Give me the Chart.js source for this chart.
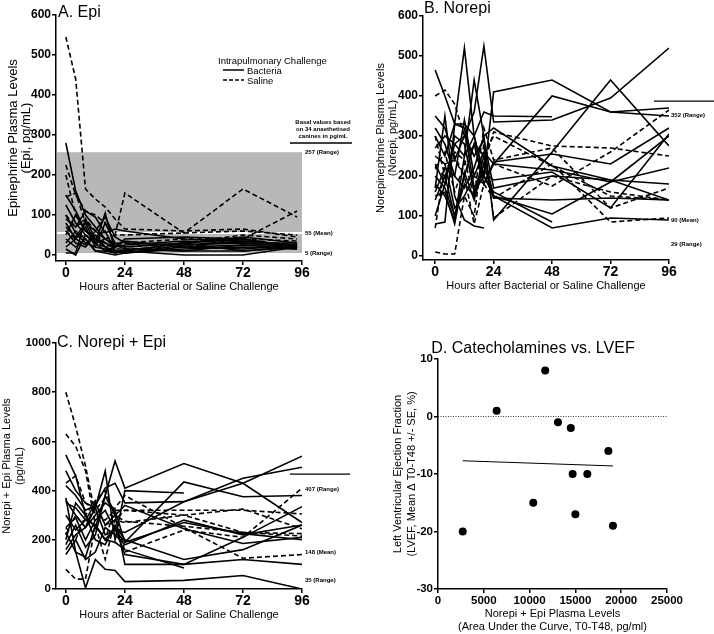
<!DOCTYPE html>
<html>
<head>
<meta charset="utf-8">
<title>Catecholamines</title>
<script src="https://cdn.jsdelivr.net/npm/chart.js"></script>
<style>
    body { margin: 0; background: #fff; }
    .stage { position: relative; width: 714px; height: 634px; }
    .stage canvas { position: absolute; left: 0; top: 0; }
</style>
</head>
<body>
<div class="stage">
    <canvas id="epiChart" width="714" height="634"></canvas>
    <canvas id="norepiChart" width="714" height="634"></canvas>
    <canvas id="sumChart" width="714" height="634"></canvas>
    <canvas id="lvefChart" width="714" height="634"></canvas>
</div>
<script>
// sampling times (hours after challenge)
const hoursA = [0, 4, 8, 12, 16, 20, 24, 48, 72, 94];
const hoursBC = [0, 4, 8, 12, 16, 20, 24, 48, 72, 96];
const hourTicks = [0, 24, 48, 72, 96];

// A. Epi (pg/mL), one row per animal
const epiBacteria = [
    [280, 160, 100, 70, 40, 25, 15, 10, 10, 20],
    [150, 110, 60, 40, 20, 10, 5, 20, 25, 25],
    [90, 70, 110, 95, 55, 65, 60, 40, 35, 25],
    [70, 45, 80, 30, 105, 10, 10, 30, 45, 30],
    [60, 30, 20, 50, 20, 5, 10, 30, 40, 20],
    [5, 5, 90, 40, 60, 10, 5, 25, 35, 25],
    [40, 20, 40, 10, 5, 0, 5, 15, 20, 15],
    [100, 55, 30, 20, 80, 30, 20, 30, 10, 20],
    [15, 0, 50, 30, 10, 5, 10, 0, 0, 20],
    [125, 80, 50, 30, 40, 20, 25, 35, 30, 30],
    [30, 60, 40, 10, 10, 20, 40, 45, 40, 20],
    [50, 100, 60, 40, 30, 20, 35, 20, 15, 25],
    [80, 40, 25, 60, 95, 45, 30, 25, 30, 20],
    [20, 40, 70, 20, 15, 5, 15, 10, 25, 15]
];
const epiSaline = [
    [545, 440, 165, 140, 120, 90, 65, 60, 65, 45],
    [225, 150, 110, 100, 80, 50, 155, 55, 165, 95],
    [145, 155, 80, 60, 40, 30, 30, 40, 40, 110],
    [100, 70, 90, 60, 40, 50, 50, 55, 60, 50],
    [60, 40, 50, 30, 20, 30, 20, 30, 50, 40],
    [200, 100, 60, 50, 30, 15, 15, 20, 40, 35]
];
const epiTicks = [0, 100, 200, 300, 400, 500, 600];
const epiBasal = [257, 55, 5];
const epiBasalText = ['257 (Range)', '55 (Mean)', '5 (Range)'];

// B. Norepi (pg/mL)
const norepiBacteria = [
    [465, 400, 330, 520, 300, 200, 410, 440, 360, 350],
    [350, 320, 240, 300, 360, 525, 335, 340, 395, 520],
    [180, 150, 90, 250, 440, 300, 90, 260, 440, 275],
    [300, 250, 330, 330, 300, 360, 350, 348, null, null],
    [140, 200, 100, 200, 280, 180, 230, 400, 360, 370],
    [250, 230, 120, 150, 200, 180, 235, 255, 230, 320],
    [200, 170, 100, 180, 150, 250, 150, 105, 185, 300],
    [150, 160, 80, 210, 140, 230, 145, 140, 145, 140],
    [320, 280, 200, 170, 220, 300, 320, 225, 190, 180],
    [170, 350, 150, 90, 75, 70, null, null, null, null],
    [230, 180, 280, 300, 250, 290, 170, 200, 190, 140],
    [100, 180, 300, 280, 160, 200, 150, 70, 95, 90],
    [270, 300, 280, 250, 300, 200, 160, 85, null, null],
    [160, 220, 200, 340, 200, 260, 230, 215, 185, 220],
    [80, 85, 330, 320, 170, 210, 190, 210, 120, 305]
];
const norepiSaline = [
    [400, 415, 380, 300, 250, 230, 310, 275, 270, 250],
    [10, 5, 5, 150, 100, 280, 95, 200, 160, 140],
    [220, 200, 250, 200, 280, 180, 230, 175, 260, 365],
    [300, 200, 260, 240, 150, 320, 240, 270, 120, 170],
    [70, 230, 240, 200, 80, 180, 145, 230, 85, 95],
    [220, 260, 160, 230, 280, 250, 300, 225, 150, 140]
];
const norepiTicks = [0, 100, 200, 300, 400, 500, 600];
const norepiBasal = [352, 90, 29];
const norepiBasalText = ['352 (Range)', '90 (Mean)', '29 (Range)'];

// C. Norepi + Epi (pg/mL)
const sumBacteria = [
    [545, 460, 300, 250, 380, 520, 410, 510, 430, 270],
    [480, 400, 350, 330, 480, 200, 400, 390, null, null],
    [420, 380, 320, 340, 410, 430, 350, 355, 450, 495],
    [360, 300, 250, 300, 350, 320, 190, 435, 375, 380],
    [250, 290, 200, 280, 320, 240, 230, 355, 430, 540],
    [230, 150, 130, 260, 200, 250, 140, 100, 210, 335],
    [180, 260, 170, 220, 380, 300, 100, 100, 120, 100],
    [140, 200, 120, 150, 250, 220, 180, 280, 220, 260],
    [300, 240, 280, 350, 260, 300, 340, 245, 185, 210],
    [200, 350, 300, 200, 180, 260, 200, 120, 160, 260],
    [350, 330, 280, 260, 200, 190, 160, 85, null, null],
    [370, 150, 5, 120, 80, 75, 30, 35, 55, 0],
    [160, 220, 250, 330, 220, 240, 190, 270, 225, 200]
];
const sumSaline = [
    [800, 660, 500, 300, 280, 320, 320, 320, 320, 305],
    [630, 580, 480, 260, 200, 330, 380, 250, 125, 140],
    [80, 40, 40, 260, 120, 280, 270, 300, 325, 245],
    [250, 200, 300, 360, 400, 300, 275, 255, 230, 215],
    [430, 460, 350, 320, 370, 320, 150, 240, 210, 410],
    [220, 300, 250, 350, 260, 280, 320, 300, 230, 225]
];
const sumTicks = [0, 200, 400, 600, 800, 1000];
const sumBasal = [407, 148, 35];
const sumBasalText = ['407 (Range)', '148 (Mean)', '35 (Range)'];

// D. AUC vs change in LVEF
const aucX = [2700, 6400, 10400, 11700, 13100, 14500, 14700, 15000, 16300, 18600, 19100];
const lvefY = [-20, 1, -15, 8, -1, -2, -10, -17, -10, -6, -19];
const fitX = [2700, 19100];
const fitY = [-7.7, -8.6];
const aucTicks = [0, 5000, 10000, 15000, 20000, 25000];
const lvefTicks = [-30, -20, -10, 0, 10];

const FONT = "'Liberation Sans', Arial, sans-serif";

function toPoints(xs, ys) {
    return xs.map((x, i) => ({ x: x, y: ys[i] })).filter(p => p.y !== null);
}

function lineSets(hours, bacteria, saline) {
    const sets = [];
    bacteria.forEach(s => sets.push({ data: toPoints(hours, s), borderDash: [] }));
    saline.forEach(s => sets.push({ data: toPoints(hours, s), borderDash: [5, 3] }));
    return sets.map(d => Object.assign(d, {
        borderColor: '#000', borderWidth: 1.6, pointRadius: 0, tension: 0, fill: false
    }));
}

function makeScale(cfg, isX) {
    return {
        type: 'linear',
        min: cfg.min,
        max: cfg.max,
        afterBuildTicks: s => { s.ticks = cfg.ticks.map(v => ({ value: v })); },
        afterFit: s => { if (isX) s.height = cfg.size; else s.width = cfg.size; },
        grid: { drawOnChartArea: false, drawTicks: true, tickLength: 4, color: '#000', lineWidth: 1.5 },
        border: { display: true, color: '#000', width: 1.5 },
        ticks: {
            color: '#000', padding: cfg.tickPad, autoSkip: false, maxRotation: 0,
            font: { family: FONT, size: cfg.tickSize, weight: 'bold' },
            callback: v => String(v)
        },
        title: {
            display: true, text: cfg.title, color: '#000',
            font: { family: FONT, size: cfg.titleSize, lineHeight: cfg.titleLine },
            padding: cfg.titlePad
        }
    };
}

function baseOptions(pad, xCfg, yCfg) {
    return {
        responsive: false,
        animation: false,
        layout: { padding: pad },
        plugins: { legend: { display: false }, tooltip: { enabled: false } },
        scales: { x: makeScale(xCfg, true), y: makeScale(yCfg, false) }
    };
}

function txt(ctx, s, x, y, size, weight, align) {
    ctx.save();
    ctx.fillStyle = '#000';
    ctx.font = (weight || 'normal') + ' ' + size + 'px ' + FONT;
    ctx.textAlign = align || 'left';
    ctx.textBaseline = 'alphabetic';
    ctx.fillText(s, x, y);
    ctx.restore();
}

function hline(ctx, x1, x2, y, width, dash) {
    ctx.save();
    ctx.strokeStyle = '#000';
    ctx.lineWidth = width;
    ctx.setLineDash(dash || []);
    ctx.beginPath();
    ctx.moveTo(x1, y);
    ctx.lineTo(x2, y);
    ctx.stroke();
    ctx.restore();
}

function basalLabels(chart, values, labels, dx) {
    const ctx = chart.ctx;
    const y = chart.scales.y;
    const right = chart.chartArea.right;
    values.forEach((v, i) => {
        ctx.save();
        ctx.fillStyle = '#000';
        ctx.font = 'bold 6px ' + FONT;
        ctx.textBaseline = 'middle';
        ctx.fillText(labels[i], right + dx, y.getPixelForValue(v));
        ctx.restore();
    });
}

const hourTitle = 'Hours after Bacterial or Saline Challenge';
const hourAxis = { ticks: hourTicks, size: 32.5, tickSize: 14, tickPad: 0, title: hourTitle, titleSize: 11, titleLine: 1.2, titlePad: { top: 0, bottom: 0 } };

// ---------- A. Epi ----------
new Chart(document.getElementById('epiChart'), {
    type: 'line',
    data: { datasets: lineSets(hoursA, epiBacteria, epiSaline) },
    options: baseOptions(
        { left: 0, right: 412, top: 15, bottom: 340.5 },
        Object.assign({ min: -4, max: 96 }, hourAxis),
        { min: -15, max: 600, ticks: epiTicks, size: 56, tickSize: 12, tickPad: 1, title: ['Epinephrine Plasma Levels', '(Epi, pg/mL)'], titleSize: 13, titleLine: 1.0, titlePad: { top: 6.5, bottom: 0 } }
    ),
    plugins: [{
        id: 'epiDecor',
        beforeDatasetsDraw(chart) {
            const ctx = chart.ctx, x = chart.scales.x, y = chart.scales.y;
            const left = chart.chartArea.left + 1, right = x.getPixelForValue(96);
            const top = y.getPixelForValue(epiBasal[0]), bottom = y.getPixelForValue(epiBasal[2]);
            ctx.save();
            ctx.fillStyle = '#b8b8b8';
            ctx.fillRect(left, top, right - left, bottom - top);
            ctx.restore();
            ctx.save();
            ctx.strokeStyle = '#fff';
            ctx.lineWidth = 2;
            ctx.beginPath();
            ctx.moveTo(left, y.getPixelForValue(epiBasal[1]));
            ctx.lineTo(right, y.getPixelForValue(epiBasal[1]));
            ctx.stroke();
            ctx.restore();
        },
        afterDraw(chart) {
            const ctx = chart.ctx, a = chart.chartArea;
            txt(ctx, 'A. Epi', a.left + 2, a.top + 2, 16);
            // legend
            txt(ctx, 'Intrapulmonary Challenge', 218, 64, 9.5);
            hline(ctx, 223, 244, 70, 1.5);
            txt(ctx, 'Bacteria', 247, 73.5, 9.5);
            hline(ctx, 223, 244, 80, 1.5, [4, 2]);
            txt(ctx, 'Saline', 247, 83.5, 9.5);
            // basal header
            txt(ctx, 'Basal values based', a.right + 21, 124, 6, 'bold', 'center');
            txt(ctx, 'on 34 anaethetised', a.right + 21, 131, 6, 'bold', 'center');
            txt(ctx, 'canines in pg/mL', a.right + 21, 138, 6, 'bold', 'center');
            hline(ctx, a.right - 12, a.right + 50, 143, 1.3);
            basalLabels(chart, epiBasal, epiBasalText, 3);
        }
    }]
});

// ---------- B. Norepi ----------
new Chart(document.getElementById('norepiChart'), {
    type: 'line',
    data: { datasets: lineSets(hoursBC, norepiBacteria, norepiSaline) },
    options: baseOptions(
        { left: 360, right: 45, top: 16, bottom: 341.5 },
        Object.assign({ min: -5, max: 96 }, hourAxis),
        { min: -10, max: 600, ticks: norepiTicks, size: 63, tickSize: 12, tickPad: 1, title: ['Norepinephrine Plasma Levels', '(Norepi, pg/mL)'], titleSize: 11, titleLine: 1.1, titlePad: { top: 15, bottom: 0 } }
    ),
    plugins: [{
        id: 'norepiDecor',
        afterDraw(chart) {
            const ctx = chart.ctx, a = chart.chartArea, y = chart.scales.y;
            txt(ctx, 'B. Norepi', a.left + 1, a.top - 3, 16);
            hline(ctx, a.right - 15, 714, y.getPixelForValue(387), 1.3);
            basalLabels(chart, norepiBasal, norepiBasalText, 2);
        }
    }]
});

// ---------- C. Norepi + Epi ----------
new Chart(document.getElementById('sumChart'), {
    type: 'line',
    data: { datasets: lineSets(hoursBC, sumBacteria, sumSaline) },
    options: baseOptions(
        { left: 0, right: 412, top: 343, bottom: 12.5 },
        Object.assign({ min: -4, max: 96 }, hourAxis),
        { min: 0, max: 1000, ticks: sumTicks, size: 56, tickSize: 11.5, tickPad: 1, title: ['Norepi + Epi Plasma Levels', '(pg/mL)'], titleSize: 11, titleLine: 1.2, titlePad: { top: 0, bottom: 0 } }
    ),
    plugins: [{
        id: 'sumDecor',
        afterDraw(chart) {
            const ctx = chart.ctx, a = chart.chartArea, y = chart.scales.y;
            txt(ctx, 'C. Norepi + Epi', a.left + 1, a.top + 4, 16);
            hline(ctx, a.right - 12, a.right + 48, y.getPixelForValue(467), 1.3);
            basalLabels(chart, sumBasal, sumBasalText, 3);
        }
    }]
});

// ---------- D. Catecholamines vs. LVEF ----------
new Chart(document.getElementById('lvefChart'), {
    type: 'scatter',
    data: {
        datasets: [
            {
                data: toPoints(aucX, lvefY),
                backgroundColor: '#000', borderColor: '#000', pointRadius: 4, pointBorderWidth: 0
            },
            {
                type: 'line', data: toPoints(fitX, fitY),
                borderColor: '#000', borderWidth: 1, pointRadius: 0, fill: false
            }
        ]
    },
    options: baseOptions(
        { left: 380, right: 47, top: 359, bottom: 0 },
        { min: 0, max: 25000, ticks: aucTicks, size: 45, tickSize: 11.5, tickPad: 1, title: ['Norepi + Epi Plasma Levels', '(Area Under the Curve, T0-T48, pg/ml)'], titleSize: 11, titleLine: 1.2, titlePad: { top: 0, bottom: 0 } },
        { min: -30, max: 10, ticks: lvefTicks, size: 58, tickSize: 11.5, tickPad: 1, title: ['Left Ventricular Ejection Fraction', '(LVEF, Mean \u0394 T0-T48 +/- SE, %)'], titleSize: 11, titleLine: 1.27, titlePad: { top: 11, bottom: 0 } }
    ),
    plugins: [{
        id: 'lvefDecor',
        beforeDatasetsDraw(chart) {
            const a = chart.chartArea, y = chart.scales.y;
            hline(chart.ctx, a.left, a.right, y.getPixelForValue(0), 0.8, [1, 1.5]);
        },
        afterDraw(chart) {
            const a = chart.chartArea;
            txt(chart.ctx, 'D. Catecholamines vs. LVEF', a.left + 95, a.top - 6, 16, 'normal', 'center');
        }
    }]
});
</script>
</body>
</html>
